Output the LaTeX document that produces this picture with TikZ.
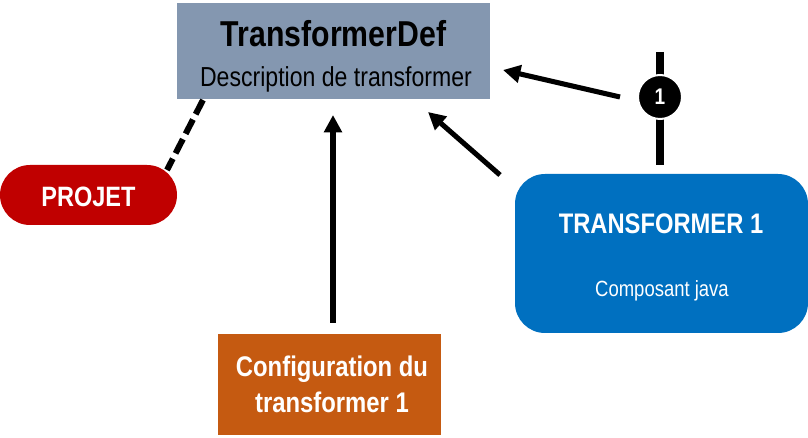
\documentclass[tikz,border=0pt]{standalone}
\usepackage{fontspec}
\setmainfont{Liberation Sans}[FakeStretch=0.84]
\usetikzlibrary{arrows.meta}
\definecolor{tdefc}{HTML}{8497B0}
\definecolor{projc}{HTML}{C00000}
\definecolor{confc}{HTML}{C55A11}
\definecolor{trc}{HTML}{0070C0}
\tikzset{
  boxbase/.style={inner sep=0pt, draw=none},
  arrowline/.style={line width=3.8pt, -{Triangle[length=13pt,width=13pt]}},
  txt/.style={inner sep=0pt, anchor=base},
}
\begin{document}
\begin{tikzpicture}[x=0.75pt,y=-0.75pt]
\useasboundingbox (0,0) rectangle (808,438);
% boxes
\node[boxbase, fill=tdefc, minimum width=234.75pt, minimum height=72pt] (tdef) at (333.5,51) {};
\node[txt, font=\bfseries\fontsize{27}{30}\selectfont] (tdeft) at (333.5,47) {TransformerDef};
\node[txt, font=\fontsize{20.6}{24}\selectfont] (tdefs) at (336,87) {Description de transformer};

\node[boxbase, fill=projc, minimum width=132.75pt, minimum height=45pt, rounded corners=22.5pt] (proj) at (88.5,195) {};
\node[txt, font=\bfseries\fontsize{21}{24}\selectfont, text=white] (projt) at (88.5,207) {PROJET};

\node[boxbase, fill=confc, minimum width=167.25pt, minimum height=75.75pt] (conf) at (329.5,384.5) {};
\node[txt, font=\bfseries\fontsize{21.3}{24}\selectfont, text=white] (conft1) at (332,377) {Configuration du};
\node[txt, font=\bfseries\fontsize{21.3}{24}\selectfont, text=white] (conft2) at (332,413) {transformer 1};

\node[boxbase, fill=trc, minimum width=219.75pt, minimum height=119.25pt, rounded corners=22.5pt] (tr) at (661.5,253.5) {};
\node[txt, font=\bfseries\fontsize{21.2}{24}\selectfont, text=white] (trt) at (661,234) {TRANSFORMER 1};
\node[txt, font=\fontsize{16.5}{18}\selectfont, text=white] (trs) at (662,297) {Composant java};

% cardinality marker
\coordinate (mtop) at (660,52);
\coordinate (mbot) at (660,165);
\draw[line width=6pt] (mtop) -- (mbot);
\node[circle, fill=black, draw=white, line width=1.5pt, minimum size=33pt, inner sep=0pt,
      text=white, font=\bfseries\fontsize{17}{18}\selectfont] (mark) at (660,97) {1};

% connectors
\coordinate (a1s) at (620,97);
\coordinate (a1e) at (503,70);
\draw[arrowline] (a1s) -- (a1e);

\coordinate (a2s) at (500,175);
\coordinate (a2e) at (428,112);
\draw[arrowline] (a2s) -- (a2e);

\coordinate (a3s) at (333,323);
\coordinate (a3e) at (333,115);
\draw[arrowline] (a3s) -- (a3e);

\coordinate (ds) at (203,100);
\coordinate (de) at (167,170);
\draw[line width=4.5pt, dash pattern=on 12pt off 4.5pt] (ds) -- (de);
\end{tikzpicture}
\end{document}
